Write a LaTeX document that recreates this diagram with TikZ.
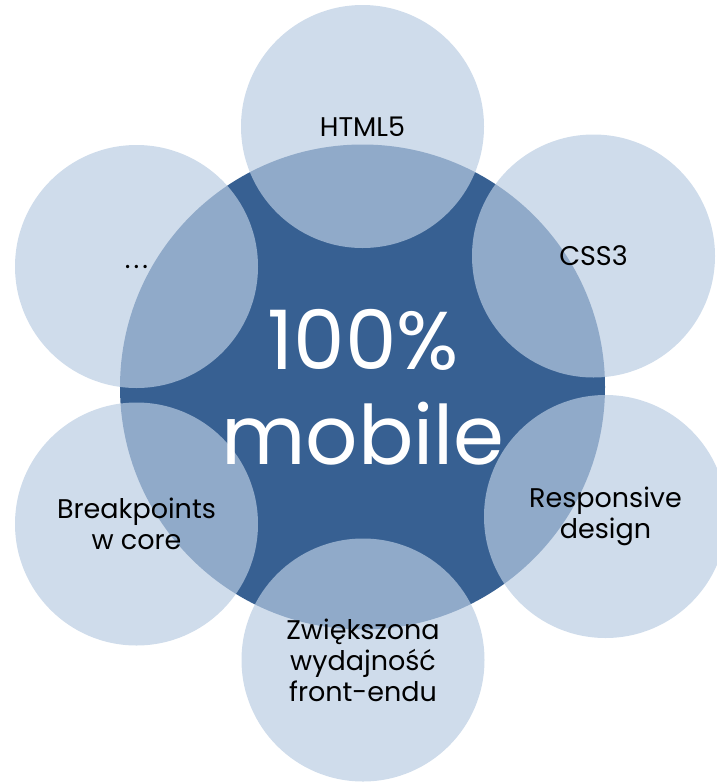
\documentclass[tikz,border=0pt]{standalone}
\usepackage{fontspec}
\setmainfont{Poppins}
\definecolor{coreblue}{RGB}{55,96,146}
\definecolor{satblue}{RGB}{185,204,226}
\begin{document}
\begin{tikzpicture}[x=1pt,y=-1pt,
  corecirc/.style={circle, inner sep=0pt, minimum size=485pt, fill=coreblue},
  satcirc/.style={circle, inner sep=0pt, minimum size=243pt, fill=satblue, fill opacity=0.69, text opacity=1,
    align=center, text=black, font=\fontsize{27}{31}\selectfont},
  centertext/.style={align=center, text=white, font=\fontsize{82}{95}\selectfont}]
\useasboundingbox (0,0) rectangle (716,782);
\node[corecirc] (core) at (362.5,387) {};
\node[satcirc] (dots) at (136.5,266.5) {.\kern3pt.\kern3pt.};
\node[satcirc] (html) at (362.5,126.5) {HTML5};
\node[satcirc] (css) at (593.5,256) {CSS3};
\node[satcirc] (resp) at (605.5,516.5) {Responsive\\design};
\node[satcirc] (zwi) at (363,660) {Zwiększona\\wydajność\\front-endu};
\node[satcirc] (brk) at (136.5,524) {Breakpoints\\w core};
\node[centertext] (mobile) at (363,387) {100\%\\mobile};
\end{tikzpicture}
\end{document}
